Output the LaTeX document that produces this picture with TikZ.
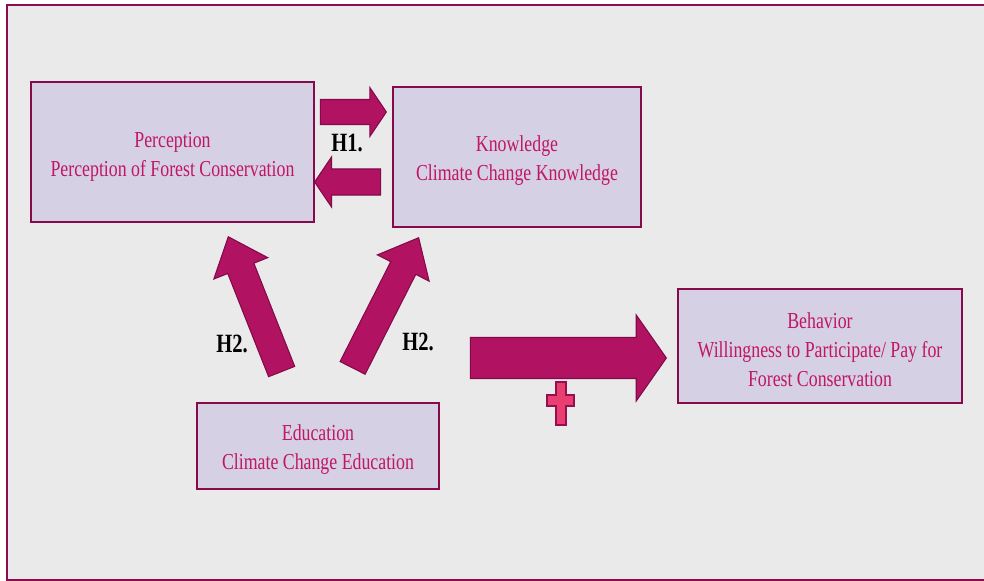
\documentclass[tikz,border=0pt]{standalone}
\usepackage{fontspec}
\setmainfont{Liberation Serif}[FakeStretch=0.78]
\usetikzlibrary{shapes.arrows}

\definecolor{framered}{RGB}{140,12,80}
\definecolor{panelgray}{RGB}{234,234,234}
\definecolor{boxfill}{RGB}{214,208,228}
\definecolor{boxline}{RGB}{135,10,75}
\definecolor{boxtext}{RGB}{192,22,100}
\definecolor{arrowfill}{RGB}{178,18,98}
\definecolor{arrowline}{RGB}{130,10,72}
\definecolor{plusfill}{RGB}{232,62,112}
\definecolor{plusline}{RGB}{150,14,80}

\newcommand{\topgap}{\rule{0pt}{13.6pt}}

\begin{document}
\begin{tikzpicture}[x=0.02cm, y=-0.02cm,
  box/.style={draw=boxline, line width=1.1pt, fill=boxfill, text=boxtext,
    align=center, inner sep=0pt, font=\fontsize{13}{16.5}\selectfont},
  hlabel/.style={font=\fontsize{15}{18}\selectfont\bfseries},
  blockarrow/.style={single arrow, draw=arrowline, fill=arrowfill,
    line width=0.6pt, inner sep=0pt, anchor=tip}]

\useasboundingbox (0,0) rectangle (984,581);

% Panel
\fill[panelgray] (7,5) rectangle (984,580);
\draw[framered, line width=1.4pt] (984,5) -- (7,5) -- (7,580) -- (984,580);

% Boxes
\node[box, minimum width=5.66cm, minimum height=2.8cm] (perception) at (172.5,152)
  {\topgap Perception\\Perception of Forest Conservation};
\node[box, minimum width=4.96cm, minimum height=2.8cm] (knowledge) at (517,157)
  {\topgap Knowledge\\Climate Change Knowledge};
\node[box, minimum width=5.68cm, minimum height=2.28cm] (behavior) at (820,346)
  {\topgap Behavior\\Willingness to Participate/ Pay for\\Forest Conservation};
\node[box, minimum width=4.84cm, minimum height=1.72cm] (education) at (318,446)
  {\topgap Education\\Climate Change Education};

% H1 arrows
\node[blockarrow, minimum height=1.32cm, minimum width=0.96cm, inner ysep=0.24cm,
  single arrow head extend=0.24cm, single arrow tip angle=112] (percknow) at (387,112) {};
\node[blockarrow, minimum height=1.32cm, minimum width=0.96cm, inner ysep=0.25cm,
  single arrow head extend=0.24cm, single arrow tip angle=112, rotate=180] (knowperc) at (314,182) {};

% H2 arrows
\node[blockarrow, minimum height=2.9cm, minimum width=1.14cm, inner ysep=0.27cm,
  single arrow head extend=0.3cm, single arrow tip angle=81, rotate=111.6] (eduperc) at (228,236) {};
\node[blockarrow, minimum height=2.92cm, minimum width=1.14cm, inner ysep=0.27cm,
  single arrow head extend=0.3cm, single arrow tip angle=81, rotate=63.1] (eduknow) at (419,237) {};

% Arrow to behavior
\node[blockarrow, minimum height=3.92cm, minimum width=1.7cm, inner ysep=0.4cm,
  single arrow head extend=0.45cm, single arrow tip angle=110] (edubeh) at (667,358) {};

% Plus
\filldraw[fill=plusfill, draw=plusline, line width=0.9pt]
  (556,382) -- (566,382) -- (566,395) -- (574,395) -- (574,406) -- (566,406)
  -- (566,425) -- (556,425) -- (556,406) -- (547,406) -- (547,395) -- (556,395) -- cycle;

% Labels
\node[hlabel] (hone) at (347,143) {H1.};
\node[hlabel] (htwoleft) at (232,344) {H2.};
\node[hlabel] (htworight) at (418,342) {H2.};

\end{tikzpicture}
\end{document}
